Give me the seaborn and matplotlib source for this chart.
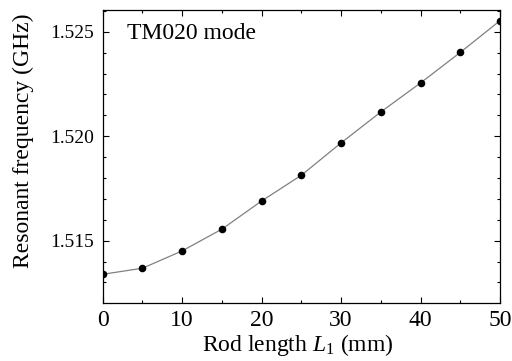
import pandas as pd
import matplotlib
matplotlib.use("Agg")
import matplotlib.pyplot as plt
import seaborn as sns
from matplotlib.ticker import MultipleLocator, FormatStrFormatter

# Data
rod_length = [0, 5, 10, 15, 20, 25, 30, 35, 40, 45, 50]
frequency = [1.51339, 1.51368, 1.51451, 1.51555, 1.51690, 1.51813,
             1.51968, 1.52116, 1.52255, 1.52401, 1.52553]

df = pd.DataFrame({'L1': rod_length, 'f': frequency})

sns.set_theme(style="ticks")
plt.rcParams['font.family'] = ['Liberation Serif', 'DejaVu Serif']
plt.rcParams['mathtext.fontset'] = 'custom'
plt.rcParams['mathtext.it'] = 'Liberation Serif:italic'
plt.rcParams['mathtext.rm'] = 'Liberation Serif'

fig = plt.figure(figsize=(5.12, 3.61), dpi=100)
ax = fig.add_axes([0.2006, 0.1615, 0.776, 0.8108])

sns.lineplot(data=df, x='L1', y='f', color='#808080', linewidth=0.9, ax=ax)
sns.scatterplot(data=df, x='L1', y='f', color='black', s=30, edgecolor='black',
                linewidth=0, ax=ax, zorder=3)

ax.set_xlim(0, 50)
ax.set_ylim(1.51203, 1.52604)
ax.xaxis.set_major_locator(MultipleLocator(10))
ax.xaxis.set_minor_locator(MultipleLocator(5))
ax.yaxis.set_major_locator(MultipleLocator(0.005))
ax.yaxis.set_minor_locator(MultipleLocator(0.001))
ax.yaxis.set_major_formatter(FormatStrFormatter('%.3f'))

ax.tick_params(which='both', direction='in', top=True, right=True,
               color='black', width=0.8, labelcolor='black')
ax.tick_params(which='major', length=4)
ax.tick_params(which='minor', length=2.5)
ax.tick_params(axis='x', labelsize=17, pad=5)
ax.tick_params(axis='y', labelsize=14, pad=6)
for sp in ax.spines.values():
    sp.set_color('black')
    sp.set_linewidth(0.9)

ax.set_xlabel('Rod length $L_1$ (mm)', fontsize=17, color='black')
ax.set_ylabel('Resonant frequency (GHz)', fontsize=17, color='black')
ax.xaxis.set_label_coords(0.49, -0.145)
ax.xaxis.label.set_verticalalignment('center')
ax.yaxis.set_label_coords(-0.2, 0.552)
ax.yaxis.label.set_verticalalignment('center')
ax.text(0.062, 0.92, 'TM020 mode', transform=ax.transAxes, fontsize=17,
        color='black', va='center', ha='left')

fig.savefig('out.png', dpi=100)
